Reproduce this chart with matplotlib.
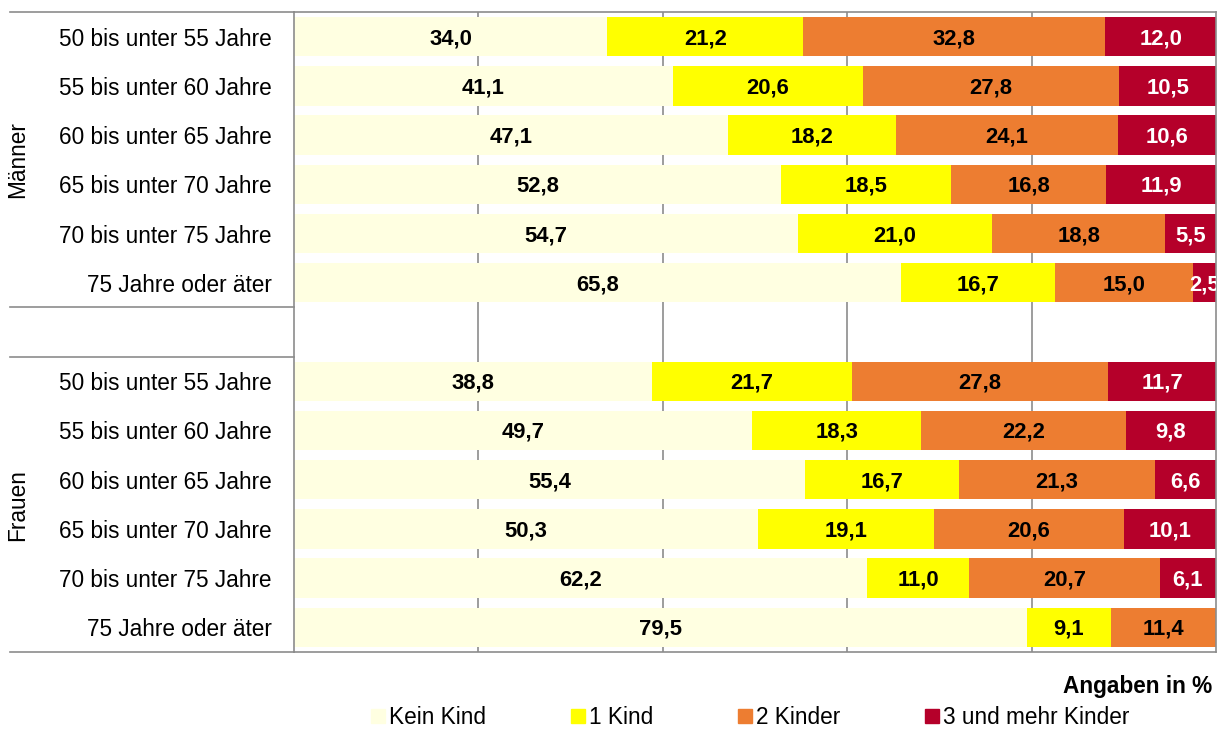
import matplotlib
matplotlib.use("Agg")
import matplotlib.pyplot as plt
from matplotlib.lines import Line2D
import numpy as np

plt.rcParams['font.family'] = ['Liberation Sans', 'DejaVu Sans']

age_groups = ["50 bis unter 55 Jahre", "55 bis unter 60 Jahre", "60 bis unter 65 Jahre",
              "65 bis unter 70 Jahre", "70 bis unter 75 Jahre", "75 Jahre oder äter"]
series_names = ["Kein Kind", "1 Kind", "2 Kinder", "3 und mehr Kinder"]
colors = ["#FFFFE1", "#FFFF00", "#ED7D31", "#B5002A"]
label_colors = ["black", "black", "black", "white"]

maenner_kein = [34.0, 41.1, 47.1, 52.8, 54.7, 65.8]
maenner_1 = [21.2, 20.6, 18.2, 18.5, 21.0, 16.7]
maenner_2 = [32.8, 27.8, 24.1, 16.8, 18.8, 15.0]
maenner_3 = [12.0, 10.5, 10.6, 11.9, 5.5, 2.5]

frauen_kein = [38.8, 49.7, 55.4, 50.3, 62.2, 79.5]
frauen_1 = [21.7, 18.3, 16.7, 19.1, 11.0, 9.1]
frauen_2 = [27.8, 22.2, 21.3, 20.6, 20.7, 11.4]
frauen_3 = [11.7, 9.8, 6.6, 10.1, 6.1, 0.0]

# rows: 6 Männer, 1 leer, 6 Frauen
rows_y = list(range(6)) + list(range(7, 13))
data = [maenner_kein + frauen_kein, maenner_1 + frauen_1,
        maenner_2 + frauen_2, maenner_3 + frauen_3]

fig = plt.figure(figsize=(12.18, 7.31), dpi=100)
ax = fig.add_axes([294 / 1218, 1 - 652 / 731, 922 / 1218, 640 / 731])

fs = 16.3
left = np.zeros(len(rows_y))
for k, vals in enumerate(data):
    vals = np.array(vals)
    ax.barh(rows_y, vals, left=left, height=0.8, color=colors[k], zorder=2)
    for y, l, v in zip(rows_y, left, vals):
        if v > 0:
            ax.text(l + v / 2, y + 0.04, f"{v:.1f}".replace(".", ","), ha="center", va="center",
                    fontsize=15.8, fontweight="bold", color=label_colors[k], zorder=3,
                    clip_on=True)
    left += vals

ax.set_xlim(0, 100)
ax.set_ylim(12.5, -0.5)
ax.set_xticks([20, 40, 60, 80])
ax.tick_params(axis="x", length=0, labelbottom=False)
ax.grid(axis="x", color="#8c8c8c", lw=1.2, zorder=0)
ax.set_yticks(rows_y)
ax.set_yticklabels(age_groups + age_groups, fontsize=fs)
ax.tick_params(axis="y", length=0, pad=16)
for s in ["top", "right", "left", "bottom"]:
    ax.spines[s].set_color("#8c8c8c")
    ax.spines[s].set_linewidth(1.2)

# Linien im Beschriftungsbereich
tr = ax.get_yaxis_transform()
x0 = (10 - 294) / 922
for yy in [-0.5, 5.5, 6.5, 12.5]:
    ax.plot([x0, 0], [yy, yy], color="#8c8c8c", lw=1.2, transform=tr, clip_on=False)

fig.text(18 / 1218, 1 - 160 / 731, "Männer", rotation=90, ha="center", va="center", fontsize=fs)
fig.text(18 / 1218, 1 - 505 / 731, "Frauen", rotation=90, ha="center", va="center", fontsize=fs)
fig.text(1212 / 1218, 1 - 686 / 731, "Angaben in %", ha="right", va="center",
         fontsize=fs, fontweight="bold")

handles = [Line2D([], [], marker="s", linestyle="none", markersize=10,
                  markerfacecolor=c, markeredgecolor=c) for c in colors]
fig.legend(handles, series_names, loc="center", bbox_to_anchor=(0.616, 0.018),
           ncol=4, frameon=False, fontsize=fs, handlelength=0.6, handletextpad=0.2,
           columnspacing=3.75, borderpad=0)

fig.savefig("out.png", dpi=100)
